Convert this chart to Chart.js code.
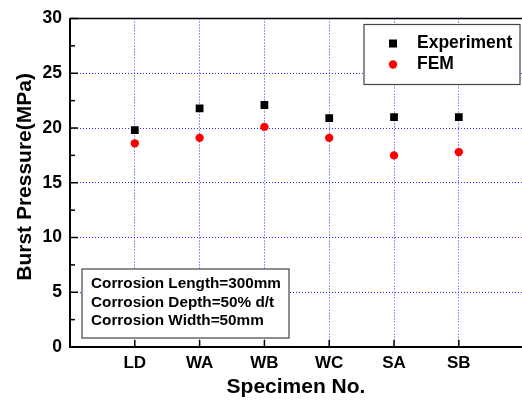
<!DOCTYPE html>
<html>
<head>
<meta charset="utf-8">
<script src="https://cdn.jsdelivr.net/npm/chart.js@4/dist/chart.umd.min.js"></script>
<style>
  html, body { margin: 0; padding: 0; background: #fff; }
</style>
</head>
<body>
<canvas id="burstchart" width="522" height="403"></canvas>
<script>
const specimens = ["LD", "WA", "WB", "WC", "SA", "SB"];
const specimenPos = [1, 2, 3, 4, 5, 6];
const experimentMPa = [19.8, 21.8, 22.1, 20.9, 21.0, 21.0];
const femMPa = [18.6, 19.1, 20.1, 19.1, 17.5, 17.8];
const noteLines = ["Corrosion Length=300mm", "Corrosion Depth=50% d/t", "Corrosion Width=50mm"];

const FONT = '"Liberation Sans", Arial, sans-serif';
const gridBlue = "#2a2aff";

function line(ctx, x1, y1, x2, y2) {
  ctx.beginPath();
  ctx.moveTo(x1, y1);
  ctx.lineTo(x2, y2);
  ctx.stroke();
}

// top frame, inward ticks, legend and note box
const framePlugin = {
  id: "frameAndBoxes",
  afterDraw: (chart) => {
    const { ctx, chartArea: a, scales: { x, y } } = chart;
    ctx.save();
    ctx.strokeStyle = "#000";
    ctx.lineWidth = 1.5;
    line(ctx, a.left, a.top, chart.width, a.top);
    for (let v = 0; v <= 30; v += 2.5) {
      const py = y.getPixelForValue(v);
      line(ctx, a.left, py, a.left + (v % 5 === 0 ? 8 : 5), py);
    }
    specimenPos.forEach((v) => {
      const px = x.getPixelForValue(v);
      line(ctx, px, a.bottom, px, a.bottom - 7);
    });

    // legend
    const lx = 364, ly = a.top + 6;
    ctx.fillStyle = "#fff";
    ctx.fillRect(lx, ly, 156, 60);
    ctx.strokeStyle = "#444";
    ctx.lineWidth = 1.2;
    ctx.strokeRect(lx, ly, 156, 60);
    chart.data.datasets.forEach((ds, i) => {
      const cy = ly + 19 + i * 21;
      const cx = lx + 29;
      ctx.fillStyle = ds.backgroundColor;
      if (ds.pointStyle === "rect") {
        ctx.fillRect(cx - 4, cy - 4, 8, 8);
      } else {
        ctx.beginPath();
        ctx.arc(cx, cy, ds.pointRadius, 0, Math.PI * 2);
        ctx.fill();
      }
      ctx.fillStyle = "#000";
      ctx.font = "bold 17.5px " + FONT;
      ctx.textBaseline = "middle";
      ctx.textAlign = "left";
      ctx.fillText(ds.label, lx + 53, cy);
    });

    // note box
    const nx = a.left + 12, ny = a.bottom - 78;
    ctx.fillStyle = "#fff";
    ctx.fillRect(nx, ny, 207, 69);
    ctx.strokeStyle = "#444";
    ctx.strokeRect(nx, ny, 207, 69);
    ctx.fillStyle = "#000";
    ctx.font = "bold 15.3px " + FONT;
    noteLines.forEach((t, i) => {
      ctx.fillText(t, nx + 9, ny + 15 + i * 18.5);
    });
    ctx.restore();
  },
};

const ctx = document.getElementById("burstchart").getContext("2d");
new Chart(ctx, {
  type: "scatter",
  data: {
    datasets: [
      {
        label: "Experiment",
        data: specimenPos.map((p, i) => ({ x: p, y: experimentMPa[i] })),
        pointStyle: "rect",
        pointRadius: 5.5,
        backgroundColor: "#000",
        borderColor: "#000",
        borderWidth: 0,
      },
      {
        label: "FEM",
        data: specimenPos.map((p, i) => ({ x: p, y: femMPa[i] })),
        pointStyle: "circle",
        pointRadius: 4.2,
        backgroundColor: "#ff0000",
        borderColor: "#ff0000",
        borderWidth: 0,
      },
    ],
  },
  plugins: [framePlugin],
  options: {
    responsive: false,
    animation: false,
    devicePixelRatio: 1,
    layout: { autoPadding: false, padding: { top: 16, right: 0, bottom: 0, left: 0 } },
    plugins: {
      legend: { display: false },
      tooltip: { enabled: false },
    },
    scales: {
      x: {
        type: "linear",
        min: 0,
        max: 6.975,
        afterBuildTicks: (s) => { s.ticks = specimenPos.map((v) => ({ value: v })); },
        afterFit: (s) => {
          s.height = 56;
          s.paddingRight = 0;
          s.paddingLeft = 0;
        },
        ticks: {
          callback: (v, i) => specimens[i],
          autoSkip: false,
          maxRotation: 0,
          padding: 6,
          color: "#000",
          font: { family: FONT, size: 17, weight: "bold" },
        },
        grid: { color: gridBlue, lineWidth: 1, drawTicks: false },
        border: { color: "#000", width: 2, dash: [1, 2] },
        title: {
          display: true,
          text: "Specimen No.",
          color: "#000",
          font: { family: FONT, size: 21, weight: "bold" },
          padding: { top: 0, bottom: 3 },
        },
      },
      y: {
        min: 0,
        max: 30,
        afterFit: (s) => { s.width = 70; },
        ticks: {
          stepSize: 5,
          padding: 8,
          color: "#000",
          font: { family: FONT, size: 17.5, weight: "bold" },
        },
        grid: { color: gridBlue, lineWidth: 1, drawTicks: false },
        border: { color: "#000", width: 2, dash: [1, 2] },
        title: {
          display: true,
          text: "  Burst Pressure(MPa)",
          color: "#000",
          font: { family: FONT, size: 21, weight: "bold" },
          padding: { top: 13, bottom: 0 },
        },
      },
    },
  },
});
</script>
</body>
</html>
